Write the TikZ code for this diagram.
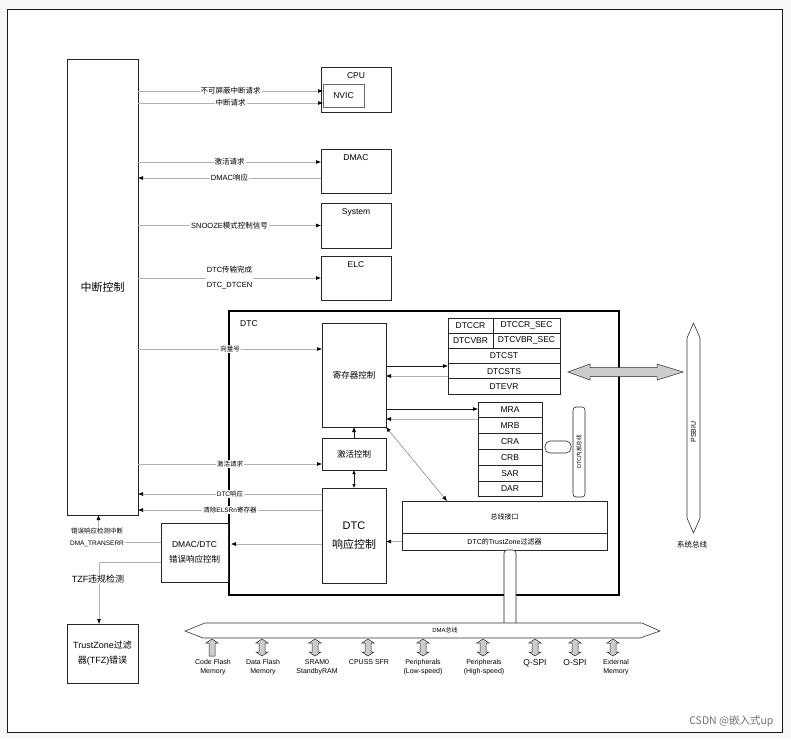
\documentclass[tikz,border=0pt]{standalone}
\usepackage{fontspec}
\setmainfont{Liberation Sans}
\newfontfamily\cjk{Noto Sans CJK SC}
\newcommand{\zh}[1]{{\cjk #1}}
\usetikzlibrary{arrows.meta,positioning}

\tikzset{
  >={Latex[length=5pt,width=4pt,color=black]},
  blk/.style={draw=black!85, line width=0.7pt, anchor=north west, inner sep=0pt, outer sep=0pt, align=center},
  cell/.style={blk, font=\fontsize{8.5}{9}\selectfont},
  sig/.style={draw=black!30, line width=0.6pt, ->},
  dsig/.style={draw=black!90, line width=0.6pt, ->},
  lbl/.style={fill=white, inner sep=1pt, font=\fontsize{7.5}{9}\selectfont},
  slbl/.style={fill=white, inner sep=1pt, font=\fontsize{6.5}{8}\selectfont},
  pill/.style={blk, fill=white, line width=0.6pt},
  bus/.style={draw=black!80, line width=0.6pt, fill=white},
  blkarr/.style={draw=black!85, line width=0.5pt, fill=black!20},
  memlbl/.style={anchor=north, align=center, inner sep=0pt, font=\fontsize{7}{9}\selectfont},
  toptxt/.style={font=\fontsize{8.5}{9}\selectfont, inner sep=1pt, below=4pt},
}

\begin{document}
\begin{tikzpicture}[x=1pt, y=-1pt]
\useasboundingbox (0,0) rectangle (791,739);

% outer frame
\fill[black!3] (0,0) rectangle (791,739);
\draw[black!90, fill=white, line width=0.7pt] (7,9) rectangle (782,732);

% interrupt controller
\node[blk, minimum width=71pt, minimum height=456pt, font=\cjk\fontsize{11}{13}\selectfont] (ctrl) at (67,59) {中断控制};

% blocks outside the DTC
\node[blk, minimum width=70pt, minimum height=45pt] (cpu) at (321,67) {};
\node[toptxt] (cputxt) at (cpu.north) {CPU};
\node[cell, draw=black!60, minimum width=41pt, minimum height=23pt] (nvic) at (323,84) {NVIC};
\node[blk, minimum width=70pt, minimum height=44pt] (dmac) at (321,149) {};
\node[toptxt] (dmactxt) at (dmac.north) {DMAC};
\node[blk, minimum width=70pt, minimum height=45pt] (sys) at (321,203) {};
\node[toptxt] (systxt) at (sys.north) {System};
\node[blk, minimum width=70pt, minimum height=44pt] (elc) at (321,256) {};
\node[toptxt] (elctxt) at (elc.north) {ELC};

% signals from the interrupt controller
\coordinate (nmi) at ([yshift=4.5pt]nvic.west);
\coordinate (irq) at ([yshift=-7.5pt]nvic.west);
\draw[sig] (ctrl.east |- nmi) -- (nmi) node[lbl, midway] {\zh{不可屏蔽中断请求}};
\draw[sig] (ctrl.east |- irq) -- (irq) node[lbl, midway] {\zh{中断请求}};
\coordinate (dreq) at ([yshift=9pt]dmac.west);
\coordinate (dack) at ([yshift=-7pt]dmac.west);
\draw[sig] (ctrl.east |- dreq) -- (dreq) node[lbl, midway] {\zh{激活请求}};
\draw[sig] (dack) -- (ctrl.east |- dack) node[lbl, midway] {DMAC\zh{响应}};
\draw[sig] (ctrl.east |- sys.west) -- (sys.west) node[lbl, midway] {SNOOZE\zh{模式控制信号}};
\draw[sig] (ctrl.east |- elc.west) -- (elc.west) node[lbl, midway, align=center, font=\fontsize{7.5}{15}\selectfont] {DTC\zh{传输完成}\\DTC\_DTCEN};

% DTC block
\node[blk, draw=black, line width=1.6pt, minimum width=390pt, minimum height=284pt] (dtc) at (229,311) {};
\node[font=\fontsize{8.5}{9}\selectfont, inner sep=0pt, anchor=north west] (dtclbl) at ([xshift=11pt,yshift=-9pt]dtc.north west) {DTC};

\node[blk, minimum width=64pt, minimum height=104pt, font=\cjk\fontsize{8.5}{10}\selectfont] (regctl) at (322,323) {寄存器控制};
\node[blk, minimum width=64pt, minimum height=32pt, font=\cjk\fontsize{8.5}{10}\selectfont] (actctl) at (322,438) {激活控制};
\node[blk, minimum width=64pt, minimum height=95pt, font=\fontsize{11}{19}\selectfont] (rspctl) at (322,488) {DTC\\\zh{响应控制}};

% register tables
\node[cell, minimum width=45pt, minimum height=15.2pt] (dtccr) at (448,318) {DTCCR};
\node[cell, minimum width=67pt, minimum height=15.2pt] (dtccrs) at (dtccr.north east) {DTCCR\_SEC};
\node[cell, minimum width=45pt, minimum height=15.2pt] (dtcvbr) at (dtccr.south west) {DTCVBR};
\node[cell, minimum width=67pt, minimum height=15.2pt] (dtcvbrs) at (dtcvbr.north east) {DTCVBR\_SEC};
\node[cell, minimum width=112pt, minimum height=15.2pt] (dtcst) at (dtcvbr.south west) {DTCST};
\node[cell, minimum width=112pt, minimum height=15.2pt] (dtcsts) at (dtcst.south west) {DTCSTS};
\node[cell, minimum width=112pt, minimum height=15.2pt] (dtevr) at (dtcsts.south west) {DTEVR};

\foreach \r [count=\i from 0] in {MRA,MRB,CRA,CRB,SAR,DAR}
  \node[cell, minimum width=64pt, minimum height=15.8pt] (mr\i) at (478,{402+15.8*\i}) {\r};

% internal bus
\node[pill, rounded corners=5pt, minimum width=26pt, minimum height=12pt] (link) at (545,441) {};
\node[pill, rounded corners=3pt, minimum width=12pt, minimum height=90pt] (ibus) at (573,407) {};
\node[rotate=90, inner sep=0pt, font=\fontsize{5.5}{6}\selectfont] (ibuslbl) at (ibus.center) {DTC\zh{内部总线}};

% bus interface
\node[blk, minimum width=205pt, minimum height=32pt, font=\cjk\fontsize{7}{8}\selectfont] (busif) at (402,501) {总线接口};
\node[blk, minimum width=205pt, minimum height=17pt, font=\fontsize{7}{8}\selectfont] (tzf) at (402,533) {DTC\zh{的}TrustZone\zh{过滤器}};
\node[pill, rounded corners=3pt, minimum width=12pt, minimum height=76pt] (dbus) at (504,550) {};

% arrows inside the DTC
\coordinate (ra) at ([yshift=9pt]regctl.east);
\coordinate (rb) at ([yshift=-1pt]regctl.east);
\coordinate (rc) at ([yshift=-34pt]regctl.east);
\coordinate (rd) at ([yshift=-44pt]regctl.east);
\draw[dsig] (ra) -- (ra -| dtcst.west);
\draw[sig] (rb -| dtcst.west) -- (rb);
\draw[dsig] (rc) -- (rc -| mr0.west);
\draw[sig] (rd -| mr0.west) -- (rd);
\draw[dsig] (actctl.north) -- (regctl.south);
\draw[dsig, <->, >={Latex[length=4pt,width=3.5pt,color=black]}] (actctl.south) -- (rspctl.north);
\draw[black!60, line width=0.4pt, <->] (regctl.south east) -- ([xshift=-57.5pt]busif.north);
\draw[sig] (tzf.west) -- (tzf.west -| rspctl.east);

% signals between the DTC and the interrupt controller
\coordinate (vec) at ([yshift=26pt]regctl.west);
\coordinate (areq) at ([yshift=-10pt]actctl.west);
\coordinate (rsp) at ([yshift=41.5pt]rspctl.west);
\coordinate (clr) at ([yshift=25.5pt]rspctl.west);
\draw[sig] (ctrl.east |- vec) -- (vec) node[slbl, midway] {\zh{向量号}};
\draw[sig] (ctrl.east |- areq) -- (areq) node[slbl, midway] {\zh{激活请求}};
\draw[sig] (rsp) -- (ctrl.east |- rsp) node[slbl, midway] {DTC\zh{响应}};
\draw[sig] (clr) -- (ctrl.east |- clr) node[slbl, midway] {\zh{清除}ELSRn\zh{寄存器}};

% error handling
\node[blk, minimum width=67pt, minimum height=59pt, font=\fontsize{8.5}{15}\selectfont] (errctl) at (161,523) {DMAC/DTC\\\zh{错误响应控制}};
\node[blk, minimum width=71pt, minimum height=59pt, font=\fontsize{9}{15}\selectfont] (tzerr) at (67,624) {TrustZone\zh{过滤}\\\zh{器}(TFZ)\zh{错误}};
\coordinate (err) at ([yshift=-8.5pt]rspctl.west);
\coordinate (e0) at (err -| errctl.east);
\draw[sig] (err) -- ([xshift=3pt]e0);
\coordinate (eint) at ([yshift=10.5pt]errctl.west);
\coordinate (tzv) at ([yshift=-9.5pt]errctl.west);
\draw[sig] (eint) -| ([xshift=-4pt]ctrl.south);
\draw[sig] (tzv) -| ([xshift=-3.5pt]tzerr.north);
\node[slbl, align=center, font=\fontsize{6.5}{12}\selectfont] (eintlbl) at (97,537) {\zh{错误响应检测中断}\\DMA\_TRANSERR};
\node[lbl, font=\fontsize{9}{10}\selectfont] (tzvlbl) at (98,579) {TZF\zh{违规检测}};

% system bus
\draw[bus] (693.5,323) -- (700,338) -- (700,518) -- (693.5,533) -- (687,518) -- (687,338) -- cycle;
\node[rotate=90, inner sep=0pt, font=\fontsize{7}{8}\selectfont] (psbiu) at (693.5,432) {PSBIU};
\node[font=\cjk\fontsize{7.5}{9}\selectfont] (sysbus) at (692,545) {系统总线};
\draw[blkarr] (568,372) -- (590,364) -- (590,367.5) -- (657,367.5) -- (657,364) -- (683,372)
  -- (657,380) -- (657,376.5) -- (590,376.5) -- (590,380) -- cycle;

% DMA bus
\draw[bus] (185,631) -- (205,623) -- (642,623) -- (660,631) -- (640,638) -- (203,638) -- cycle;
\node[inner sep=0pt, font=\fontsize{6}{7}\selectfont] (dmalbl) at (445,630) {DMA\zh{总线}};

% memories and peripherals on the DMA bus
\draw[blkarr] (209,643) -- (206,643) -- (212,639) -- (218,643) -- (215,643) -- (215,656) -- (209,656) -- cycle;
\foreach \x in {262,315,368,423,483,535,575,613}
  \draw[blkarr] (\x-3,643) -- (\x-6,643) -- (\x,639) -- (\x+6,643) -- (\x+3,643) -- (\x+3,652)
    -- (\x+6,652) -- (\x,656) -- (\x-6,652) -- (\x-3,652) -- cycle;
\foreach \x/\mtext [count=\i] in {213/Code Flash\\Memory, 263/Data Flash\\Memory, 317/SRAM0\\StandbyRAM,
    369/CPUSS SFR, 423/Peripherals\\(Low-speed), 484/Peripherals\\(High-speed), 616/External\\Memory}
  \node[memlbl] (mem\i) at (\x,659) {\mtext};
\node[memlbl, font=\fontsize{8.5}{10}\selectfont] (qspi) at (535,659) {Q-SPI};
\node[memlbl, font=\fontsize{8.5}{10}\selectfont] (ospi) at (575,659) {O-SPI};

% watermark
\node[anchor=east, text=black!55, font=\cjk\fontsize{10.5}{12}\selectfont] (wm) at (777,721) {CSDN @嵌入式up};

\end{tikzpicture}
\end{document}
